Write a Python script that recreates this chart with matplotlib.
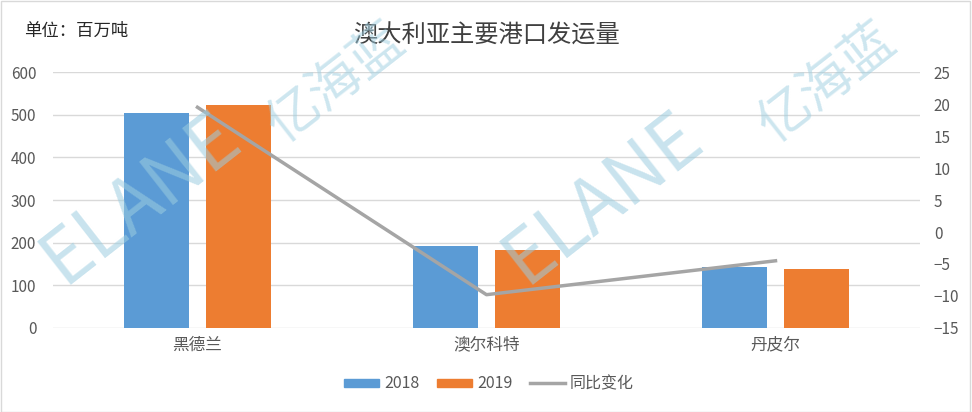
import numpy as np
import matplotlib.pyplot as plt
from matplotlib.patches import Patch
from matplotlib.lines import Line2D

plt.rcParams['font.family'] = ['Noto Sans CJK SC', 'DejaVu Sans']

ports = ['黑德兰', '澳尔科特', '丹皮尔']
v2018 = [504, 192, 143]
v2019 = [523, 183, 138]
yoy = [19.5, -9.8, -4.5]

blue = '#5b9bd5'
orange = '#ed7d31'
gray = '#a5a5a5'
txt = '#595959'

fig = plt.figure(figsize=(9.72, 4.12), dpi=100)
ax = fig.add_axes([0.0545, 0.204, 0.892, 0.621])
x = np.arange(len(ports))
w = 0.225
ax.bar(x - 0.141, v2018, w, color=blue, zorder=2)
ax.bar(x + 0.141, v2019, w, color=orange, zorder=2)
ax.set_xlim(-0.5, 2.5)
ax.set_ylim(0, 600)
ax.set_yticks(range(0, 601, 100))
ax.yaxis.grid(True, color='#d9d9d9', linewidth=1)
ax.set_axisbelow(True)
for s in ax.spines.values():
    s.set_visible(False)
ax.tick_params(length=0, colors=txt, labelsize=11)
ax.set_xticks(x)
ax.set_xticklabels(ports, fontsize=12, color=txt)
ax.tick_params(axis='x', pad=6)
ax.tick_params(axis='y', pad=12)

ax2 = ax.twinx()
ax2.plot(x, yoy, color=gray, linewidth=2.5, zorder=3)
ax2.set_ylim(-15, 25)
ax2.set_yticks(range(-15, 26, 5))
for s in ax2.spines.values():
    s.set_visible(False)
ax2.tick_params(length=0, colors=txt, labelsize=11, pad=10)

fig.text(0.5, 0.913, '澳大利亚主要港口发运量', ha='center', va='center', fontsize=17.5, color='#404040')
fig.text(0.025, 0.925, '单位：百万吨', ha='left', va='center', fontsize=12.5, color='#262626')

handles = [Patch(color=blue), Patch(color=orange), Line2D([], [], color=gray, linewidth=2.5)]
fig.legend(handles, ['2018', '2019', '同比变化'], loc='center', bbox_to_anchor=(0.503, 0.068),
           ncol=3, frameon=False, fontsize=11.5, handlelength=2.2, handleheight=0.45,
           handletextpad=0.3, columnspacing=1.1, labelcolor=txt)

# watermark
for cx, cy in [(0.145, 0.52), (0.62, 0.52)]:
    fig.text(cx, cy, 'ELANE', fontsize=54, color='#9ccde0', alpha=0.55, rotation=38,
             ha='center', va='center', zorder=10)
for cx, cy in [(0.345, 0.8), (0.85, 0.8)]:
    fig.text(cx, cy, '亿海蓝', fontsize=38, color='#9ccde0', alpha=0.5, rotation=38,
             ha='center', va='center', zorder=10)

fig.patches.append(plt.Rectangle((0.001, 0.001), 0.997, 0.997, transform=fig.transFigure,
                                 fill=False, edgecolor='#d9d9d9', linewidth=1))

fig.savefig('out.png', dpi=100)
